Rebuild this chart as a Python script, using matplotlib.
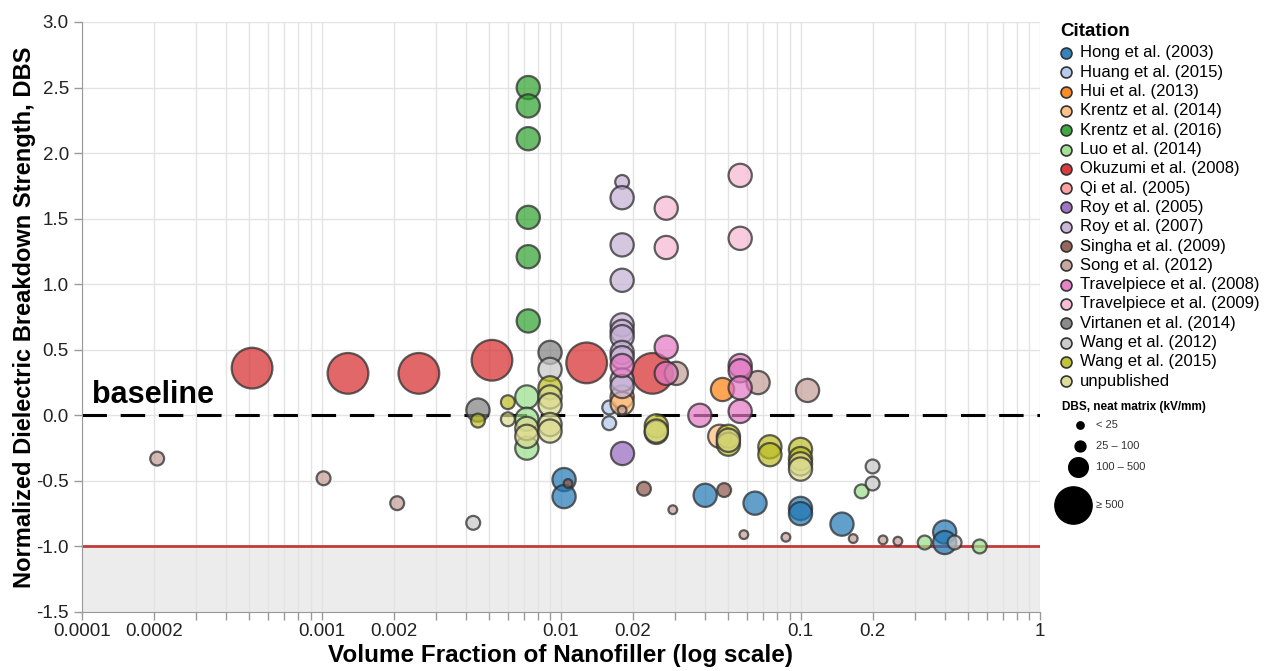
import matplotlib
matplotlib.use('Agg')
import matplotlib.pyplot as plt
from matplotlib.colors import to_rgba
from matplotlib.ticker import FixedLocator, FuncFormatter, NullFormatter

plt.rcParams['font.family'] = ['Liberation Sans', 'DejaVu Sans']
plt.rcParams['axes.unicode_minus'] = False

# ---- data ----
# size category: 0 = <25, 1 = 25-100, 2 = 100-500, 3 = >=500 kV/mm
citations = ['Hong et al. (2003)', 'Huang et al. (2015)', 'Hui et al. (2013)',
             'Krentz et al. (2014)', 'Krentz et al. (2016)', 'Luo et al. (2014)',
             'Okuzumi et al. (2008)', 'Qi et al. (2005)', 'Roy et al. (2005)',
             'Roy et al. (2007)', 'Singha et al. (2009)', 'Song et al. (2012)',
             'Travelpiece et al. (2008)', 'Travelpiece et al. (2009)',
             'Virtanen et al. (2014)', 'Wang et al. (2012)', 'Wang et al. (2015)',
             'unpublished']
colors = ['#1f77b4', '#aec7e8', '#ff7f0e', '#ffbb78', '#2ca02c', '#98df8a',
          '#d62728', '#ff9896', '#9467bd', '#c5b0d5', '#8c564b', '#c49c94',
          '#e377c2', '#f7b6d2', '#7f7f7f', '#c7c7c7', '#bcbd22', '#dbdb8d']

hong_x = [0.0103, 0.0103, 0.040, 0.0646, 0.1, 0.1, 0.149, 0.40, 0.40]
hong_y = [-0.49, -0.62, -0.61, -0.67, -0.71, -0.75, -0.83, -0.89, -0.97]
hong_c = [2, 2, 2, 2, 2, 2, 2, 2, 2]

huang_x = [0.0159, 0.0159]
huang_y = [0.06, -0.06]
huang_c = [1, 1]

hui_x = [0.047]
hui_y = [0.20]
hui_c = [2]

krentz14_x = [0.018, 0.018, 0.046]
krentz14_y = [0.14, 0.09, -0.16]
krentz14_c = [2, 2, 2]

krentz16_x = [0.0073, 0.0073, 0.0073, 0.0073, 0.0073, 0.0073]
krentz16_y = [2.50, 2.36, 2.11, 1.51, 1.21, 0.72]
krentz16_c = [2, 2, 2, 2, 2, 2]

luo_x = [0.0072, 0.0072, 0.0072, 0.18, 0.33, 0.56]
luo_y = [0.14, -0.03, -0.25, -0.58, -0.97, -1.0]
luo_c = [2, 2, 2, 1, 1, 1]

okuzumi_x = [0.000513, 0.00129, 0.00255, 0.00515, 0.0128, 0.0241]
okuzumi_y = [0.36, 0.32, 0.32, 0.42, 0.40, 0.32]
okuzumi_c = [3, 3, 3, 3, 3, 3]

qi_x = []
qi_y = []
qi_c = []

roy05_x = [0.018]
roy05_y = [-0.29]
roy05_c = [2]

roy07_x = [0.018] * 11
roy07_y = [1.78, 1.66, 1.30, 1.03, 0.69, 0.64, 0.60, 0.48, 0.44, 0.27, 0.22]
roy07_c = [1, 2, 2, 2, 2, 2, 2, 2, 2, 2, 2]

singha_x = [0.0107, 0.0222, 0.048]
singha_y = [-0.52, -0.56, -0.57]
singha_c = [0, 1, 1]

song_x = [0.000206, 0.00102, 0.00207, 0.018, 0.0293, 0.0303, 0.058, 0.0665,
          0.0869, 0.107, 0.166, 0.221, 0.255]
song_y = [-0.33, -0.48, -0.67, 0.04, -0.72, 0.32, -0.91, 0.25, -0.93, 0.19,
          -0.94, -0.95, -0.96]
song_c = [1, 1, 1, 0, 0, 2, 0, 2, 0, 2, 0, 0, 0]

trav08_x = [0.018, 0.0275, 0.0275, 0.038, 0.056, 0.056, 0.056, 0.056]
trav08_y = [0.38, 0.52, 0.32, 0.0, 0.38, 0.34, 0.21, 0.03]
trav08_c = [2, 2, 2, 2, 2, 2, 2, 2]

trav09_x = [0.0275, 0.0275, 0.056, 0.056]
trav09_y = [1.58, 1.28, 1.83, 1.35]
trav09_c = [2, 2, 2, 2]

virtanen_x = [0.0045, 0.009]
virtanen_y = [0.04, 0.48]
virtanen_c = [2, 2]

wang12_x = [0.0043, 0.009, 0.20, 0.20, 0.44]
wang12_y = [-0.82, 0.35, -0.39, -0.52, -0.97]
wang12_c = [1, 2, 1, 1, 1]

wang15_x = [0.0045, 0.006, 0.009, 0.025, 0.025, 0.05, 0.05, 0.0745, 0.0745, 0.1, 0.1]
wang15_y = [-0.04, 0.10, 0.21, -0.08, -0.13, -0.16, -0.22, -0.24, -0.30, -0.26, -0.33]
wang15_c = [1, 1, 2, 2, 2, 2, 2, 2, 2, 2, 2]

unpub_x = [0.006, 0.0072, 0.0072, 0.009, 0.009, 0.009, 0.009, 0.025, 0.05, 0.1, 0.1]
unpub_y = [-0.03, -0.10, -0.16, 0.14, 0.08, -0.07, -0.12, -0.12, -0.19, -0.37, -0.41]
unpub_c = [1, 2, 2, 2, 2, 2, 2, 2, 2, 2, 2]

series = [(hong_x, hong_y, hong_c), (huang_x, huang_y, huang_c), (hui_x, hui_y, hui_c),
          (krentz14_x, krentz14_y, krentz14_c), (krentz16_x, krentz16_y, krentz16_c),
          (luo_x, luo_y, luo_c), (okuzumi_x, okuzumi_y, okuzumi_c), (qi_x, qi_y, qi_c),
          (roy05_x, roy05_y, roy05_c), (roy07_x, roy07_y, roy07_c),
          (singha_x, singha_y, singha_c), (song_x, song_y, song_c),
          (trav08_x, trav08_y, trav08_c), (trav09_x, trav09_y, trav09_c),
          (virtanen_x, virtanen_y, virtanen_c), (wang12_x, wang12_y, wang12_c),
          (wang15_x, wang15_y, wang15_c), (unpub_x, unpub_y, unpub_c)]

size_labels = ['< 25', '25 \u2013 100', '100 \u2013 500', '\u2265 500']
major_x = [0.0001, 0.0002, 0.001, 0.002, 0.01, 0.02, 0.1, 0.2, 1]

# marker areas (pt^2) per size category, in the plot and in the size legend
area = [40, 100, 280, 860]
legend_area = [28, 62, 200, 720]

W, H = 1265, 671
fig = plt.figure(figsize=(W / 100, H / 100), dpi=100)
ax = fig.add_axes([82 / W, 1 - 612 / H, (1040 - 82) / W, (612 - 22) / H])

ax.set_xscale('log')
ax.set_xlim(0.0001, 1)
ax.set_ylim(-1.5, 3.0)

ax.axhspan(-1.5, -1.0, color='#ececec', zorder=0, lw=0)
ax.axhline(-1.0, color='#c23b3b', lw=2, zorder=1)
ax.axhline(0.0, color='black', lw=2.2, dashes=(8, 4.5), zorder=1)
ax.text(0.000110, 0.04, 'baseline', fontsize=22, fontweight='bold',
        va='bottom', ha='left', zorder=2)

for (xs, ys, cs), col in zip(series, colors):
    if not xs:
        continue
    ax.scatter(xs, ys, s=[area[c] for c in cs], facecolor=to_rgba(col, 0.7),
               edgecolor=to_rgba('#2e2e2e', 0.75), linewidth=1.6, zorder=3)

minor_x = [m * 10.0 ** e for e in range(-4, 0) for m in range(1, 10)
           if m * 10.0 ** e not in major_x]
ax.xaxis.set_major_locator(FixedLocator(major_x))
ax.xaxis.set_minor_locator(FixedLocator(minor_x))
ax.xaxis.set_major_formatter(FuncFormatter(lambda v, p: ('%g' % v) if v < 1 else '1'))
ax.xaxis.set_minor_formatter(NullFormatter())
ax.set_yticks([-1.5, -1.0, -0.5, 0.0, 0.5, 1.0, 1.5, 2.0, 2.5, 3.0])
ax.yaxis.set_major_formatter(FuncFormatter(lambda v, p: '%.1f' % v))

ax.grid(True, which='both', color='#e3e3e3', lw=1, zorder=0)
ax.set_axisbelow(True)
for side in ['top', 'right']:
    ax.spines[side].set_visible(False)
for side in ['left', 'bottom']:
    ax.spines[side].set_color('#999999')
ax.tick_params(which='both', colors='#999999', labelcolor='#222222', labelsize=13.5,
               length=6, width=1)
ax.tick_params(axis='x', which='major', pad=2)

ax.set_xlabel('Volume Fraction of Nanofiller (log scale)', fontsize=17.5,
              fontweight='bold', labelpad=3)
ax.set_ylabel('Normalized Dielectric Breakdown Strength, DBS', fontsize=17,
              fontweight='bold', labelpad=0)

# ---- legend drawn in pixel coordinates ----
lax = fig.add_axes([0, 0, 1, 1])
lax.set_xlim(0, W)
lax.set_ylim(H, 0)
lax.axis('off')

lax.text(1060, 32, 'Citation', fontsize=13.5, fontweight='bold', va='center', ha='left')
for i, (name, col) in enumerate(zip(citations, colors)):
    yy = 53 + i * 19.3
    lax.scatter([1066], [yy], s=62, facecolor=to_rgba(col, 0.9),
                edgecolor='#333333', linewidth=1.2)
    lax.text(1080, yy, name, fontsize=12, va='center', ha='left')

lax.text(1062, 407, 'DBS, neat matrix (kV/mm)', fontsize=8.5, fontweight='bold',
         va='center', ha='left')
size_y = [425, 446, 467, 505]
size_xc = [1080, 1080, 1078, 1073]
for lab, yy, xc, a in zip(size_labels, size_y, size_xc, legend_area):
    lax.scatter([xc], [yy], s=a, color='black')
    lax.text(1096, yy, lab, fontsize=8, va='center', ha='left', color='#333333')

fig.savefig('out.png', dpi=100)
